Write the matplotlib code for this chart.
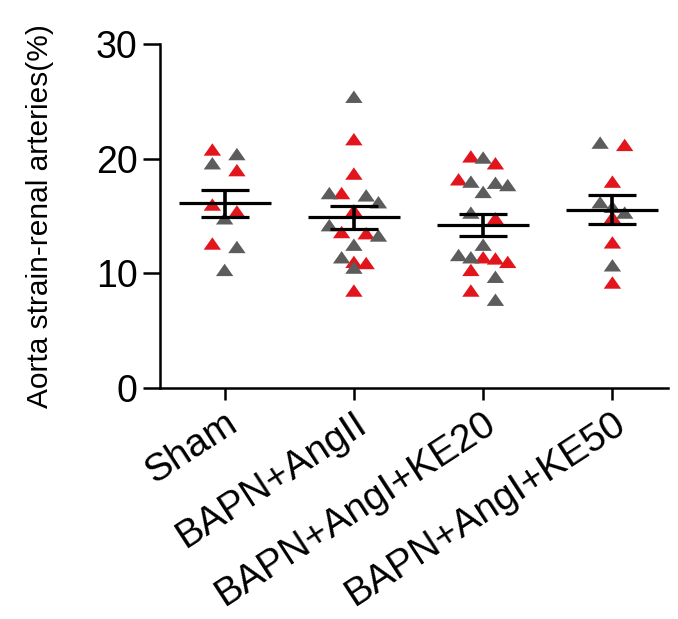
import numpy as np
import matplotlib
matplotlib.use('Agg')
import matplotlib.pyplot as plt
from matplotlib.path import Path

plt.rcParams['font.family'] = ['Liberation Sans', 'DejaVu Sans']

groups = ['Sham', 'BAPN+AngII', 'BAPN+AngI+KE20', 'BAPN+AngI+KE50']

# values (%), two colours of points per group
red_vals = [
	[20.8, 19.0, 16.0, 15.4, 12.6],
	[21.7, 18.7, 17.0, 15.5, 13.6, 13.5, 11.0, 10.9, 8.5],
	[20.2, 19.6, 18.2, 14.8, 11.4, 11.3, 11.0, 10.3, 8.5],
	[21.2, 18.0, 14.9, 12.7, 9.2],
]
gray_vals = [
	[20.4, 19.6, 14.8, 12.3, 10.3],
	[25.4, 17.0, 16.8, 16.2, 14.2, 13.3, 12.5, 11.4, 10.5],
	[20.1, 18.0, 17.9, 17.7, 17.1, 15.3, 12.5, 11.6, 11.4, 9.7, 7.7],
	[21.4, 16.2, 15.8, 15.3, 10.7],
]

RED = '#e2151d'
GRAY = '#5c5c5c'

# flat-ish triangle like the original
tri = Path([(-0.7, -0.5), (0.7, -0.5), (0.0, 0.5), (-0.7, -0.5)],
		   [Path.MOVETO, Path.LINETO, Path.LINETO, Path.CLOSEPOLY])

def row_offsets(vals, thresh=0.9, slot=0.095):
	'''group close values into rows and spread each row sideways'''
	order = np.argsort(vals)[::-1]
	offs = np.zeros(len(vals))
	i = 0
	slots = {1: [0], 2: [-1, 1], 3: [-1, 0, 1], 4: [-2, -1, 1, 2], 5: [-2, -1, 0, 1, 2]}
	while i < len(order):
		row = [order[i]]
		j = i + 1
		while j < len(order) and vals[order[i]] - vals[order[j]] < thresh and len(row) < 5:
			row.append(order[j])
			j += 1
		for k, idx in enumerate(row):
			offs[idx] = slots[len(row)][k] * slot
		i = j
	return offs

fig = plt.figure(figsize=(6.78, 6.19), dpi=100)
ax = fig.add_axes([160/678, (619-388)/619, (668-160)/678, (388-44)/619])

for g in range(len(groups)):
	vals = np.array(red_vals[g] + gray_vals[g])
	cols = [RED]*len(red_vals[g]) + [GRAY]*len(gray_vals[g])
	offs = row_offsets(vals)
	ax.scatter(g + offs, vals, c=cols, marker=tri, s=12.5**2, linewidths=0, zorder=2)
	m = vals.mean()
	sem = vals.std(ddof=1) / np.sqrt(len(vals))
	ax.hlines(m, g - 0.356, g + 0.356, color='black', lw=2.3, zorder=3)
	ax.errorbar(g, m, yerr=sem, fmt='none', ecolor='black', elinewidth=2.6,
				capsize=17, capthick=2.3, zorder=3)

ax.set_xlim(-0.5, 3.43)
ax.set_ylim(0, 30)
ax.set_yticks([0, 10, 20, 30])
ax.set_xticks(range(len(groups)))
ax.set_xticklabels(groups, rotation=33, ha='right', va='top',
				   rotation_mode='anchor', fontsize=28)
ax.tick_params(axis='y', labelsize=27, length=12, width=1.8, pad=4)
ax.tick_params(axis='x', length=8.5, width=1.8, pad=4)

for s in ['top', 'right']:
	ax.spines[s].set_visible(False)
for s in ['left', 'bottom']:
	ax.spines[s].set_linewidth(1.8)

ax.set_ylabel('Aorta strain-renal arteries(%)', fontsize=21.5, va='center')
ax.yaxis.set_label_coords(-120/508, 0.5)

fig.savefig('out.png', dpi=100)
